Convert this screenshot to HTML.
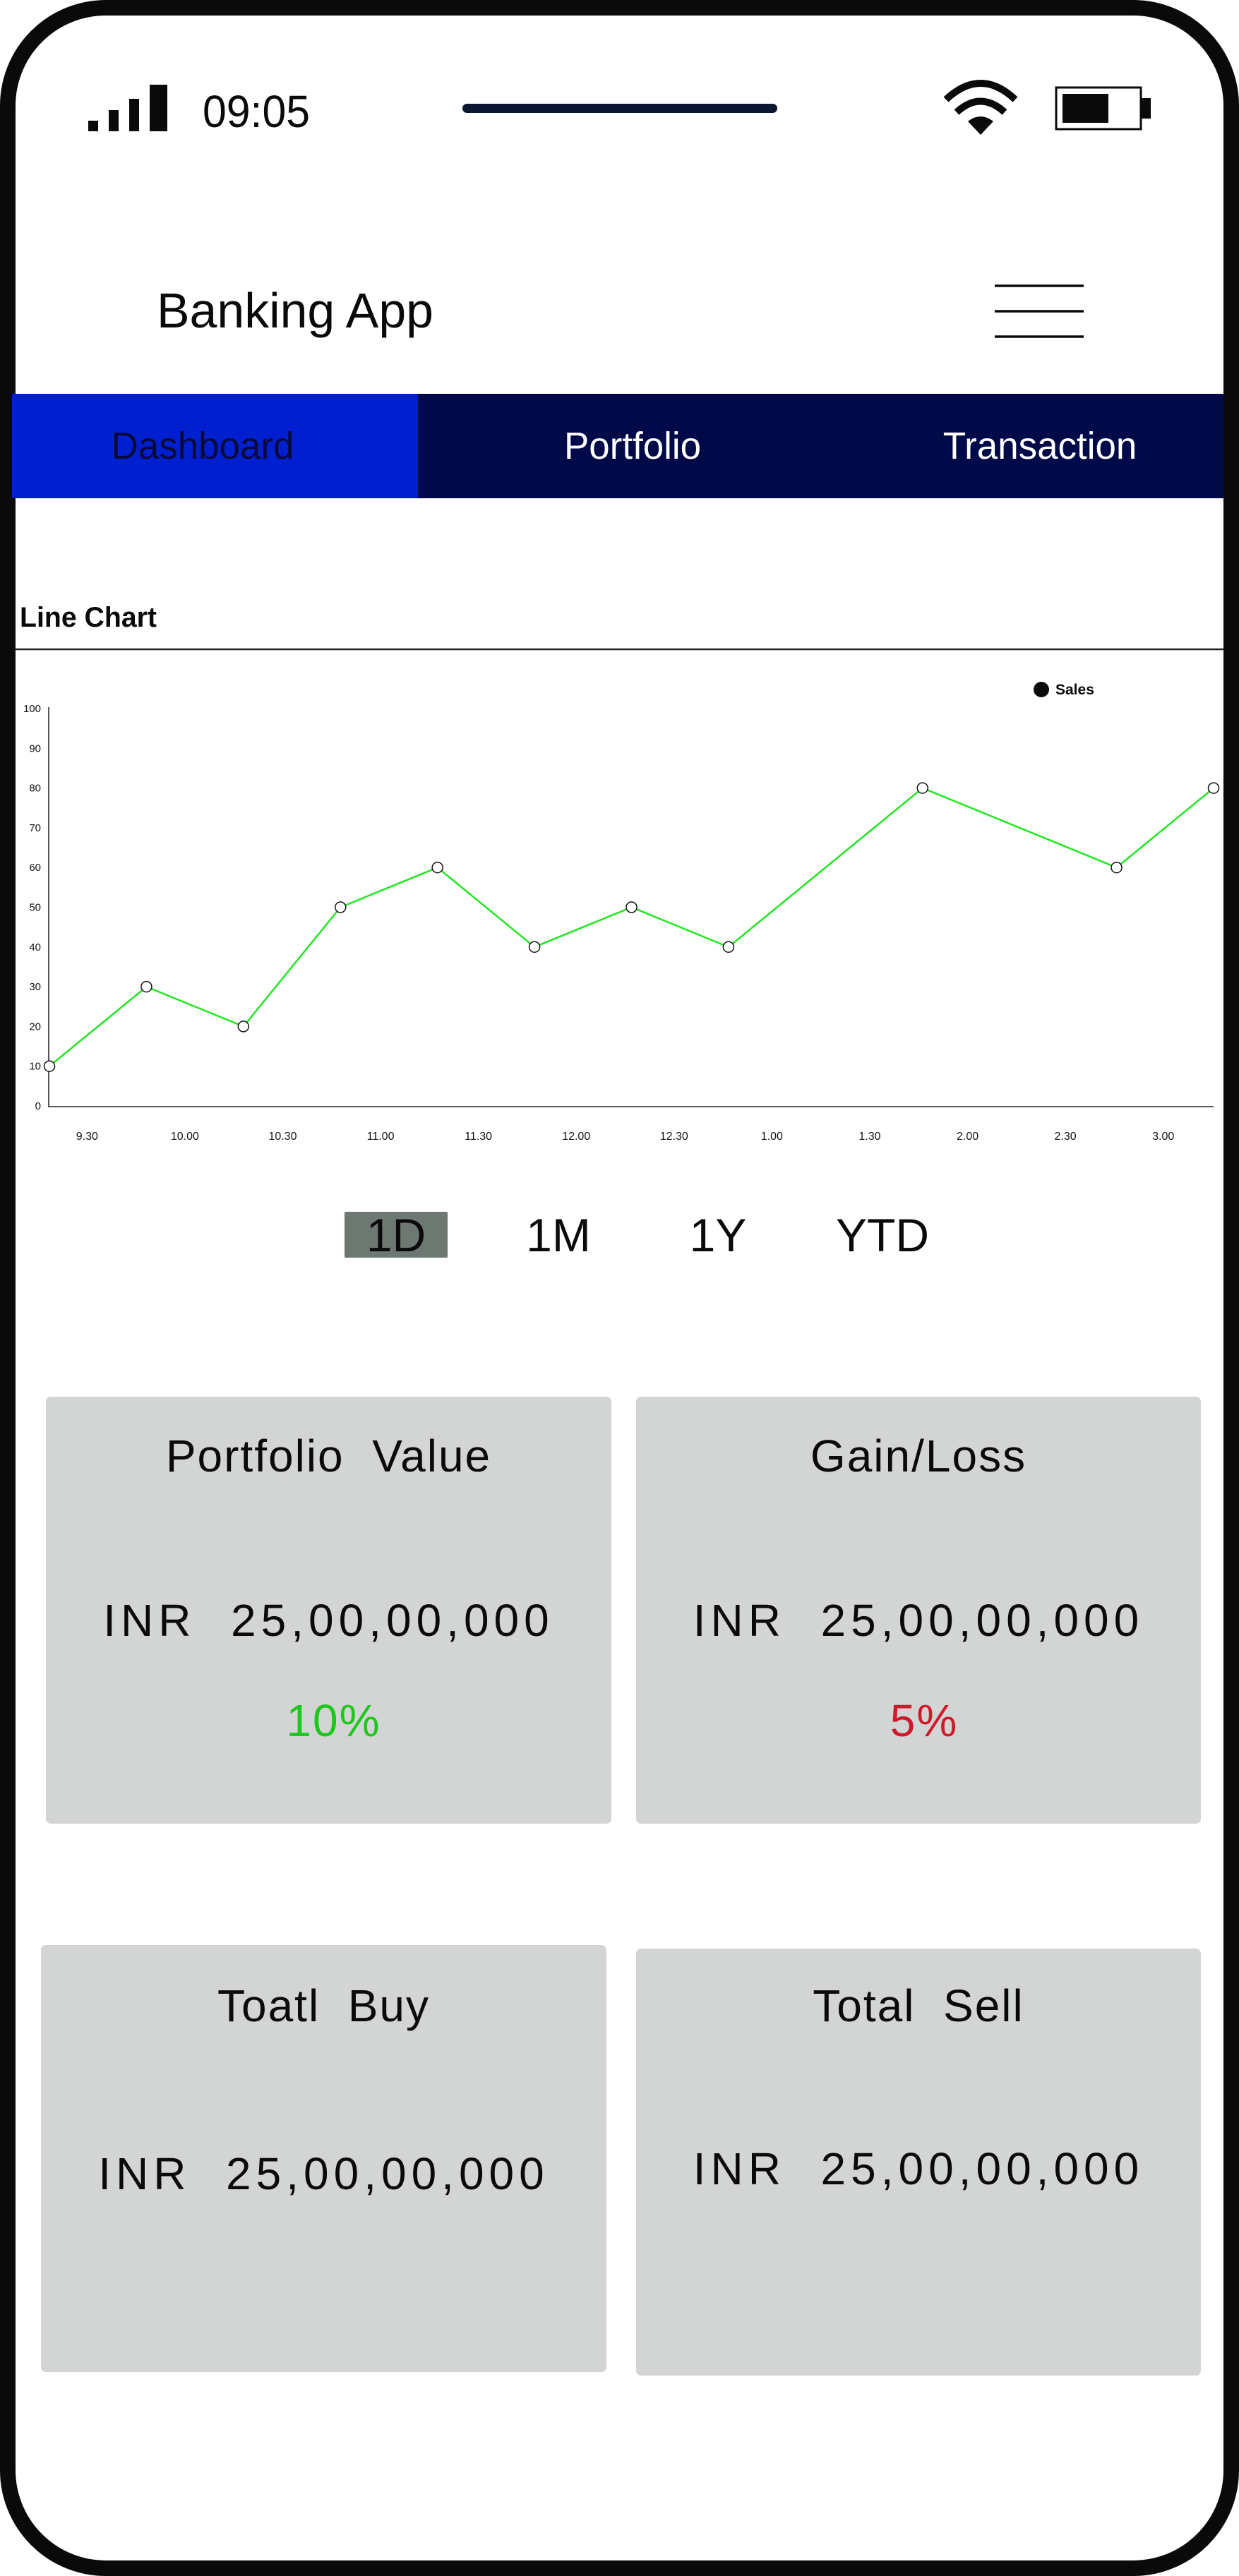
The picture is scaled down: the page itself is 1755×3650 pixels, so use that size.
<!DOCTYPE html>
<html><head><meta charset="utf-8"><style>
html,body{margin:0;padding:0;background:#fff}
body{width:1755px;height:3650px;position:relative;overflow:hidden;font-family:"Liberation Sans",sans-serif}
.abs{position:absolute}
.phone{left:0;top:0;width:1755px;height:3650px;box-sizing:border-box;border:22px solid #0a0a0a;border-radius:150px;background:#fff}
.card{background:#d3d4d4;border-radius:7px}
.ct{position:absolute;left:0;right:0;text-align:center;color:#0a0a0a;font-size:64px;letter-spacing:2px;white-space:pre;line-height:1}
.amt{letter-spacing:7px}
.tf{position:absolute;font-size:66px;color:#0a0a0a;line-height:1;text-align:center;width:200px}
.nav{position:absolute;top:558px;height:148px;font-size:54px;line-height:148px;text-align:center;transform-origin:center}
</style></head><body>
<div class="abs phone"></div>

<svg class="abs" style="left:0;top:0" width="1755" height="720">
  <g fill="#0a0a0a">
    <rect x="125" y="171" width="14" height="15"/><rect x="154" y="156" width="14" height="30"/><rect x="183" y="140" width="14" height="46"/><rect x="212" y="120" width="25" height="66"/>
  </g>
  <text x="287" y="180" font-size="64" fill="#0a0a0a" font-family="Liberation Sans" textLength="152" lengthAdjust="spacingAndGlyphs">09:05</text>
  <rect x="655" y="147" width="446" height="13" rx="6.5" fill="#0b1631"/>
  <g fill="none" stroke="#0a0a0a" stroke-width="10">
    <path d="M1340 141 Q1389 95 1438 141"/><path d="M1355 159 Q1389 128 1423 159"/>
    <path d="M1371 172 Q1389 158 1407 172 L1389 191 Z" fill="#0a0a0a" stroke="none"/>
  </g>
  <g>
    <rect x="1496" y="124" width="120" height="59" fill="none" stroke="#0a0a0a" stroke-width="3"/>
    <rect x="1505" y="133" width="65" height="41" fill="#0a0a0a"/>
    <rect x="1616" y="139" width="14" height="29" fill="#0a0a0a"/>
  </g>
  <text x="222" y="464" font-size="70" fill="#0a0a0a" textLength="392" lengthAdjust="spacingAndGlyphs">Banking App</text>
  <g stroke="#0a0a0a" stroke-width="3.5">
    <line x1="1409" y1="405" x2="1535" y2="405"/><line x1="1409" y1="441" x2="1535" y2="441"/><line x1="1409" y1="477" x2="1535" y2="477"/>
  </g>
</svg>

<div class="abs" style="left:17px;top:558px;width:575px;height:148px;background:#0020d0"></div>
<div class="abs" style="left:592px;top:558px;width:1141px;height:148px;background:#000a48"></div>
<div class="nav" style="left:0px;width:575px;color:#0a0a3a"><span style="display:inline-block;transform:scaleX(0.98)">Dashboard</span></div>
<div class="nav" style="left:746px;width:300px;color:#fff"><span style="display:inline-block;transform:scaleX(0.98)">Portfolio</span></div>
<div class="nav" style="left:1323px;width:300px;color:#fff"><span style="display:inline-block;transform:scaleX(0.98)">Transaction</span></div>

<svg class="abs" style="left:0;top:820px" width="1755" height="820" id="chart">
  <text x="28" y="68" font-size="40" font-weight="bold" fill="#0a0a0a" textLength="194" lengthAdjust="spacingAndGlyphs">Line Chart</text>
  <line x1="22" y1="100" x2="1733" y2="100" stroke="#222" stroke-width="2.5"/>
  <circle cx="1475" cy="157" r="11" fill="#0a0a0a"/>
  <text x="1495" y="164" font-size="21" font-weight="bold" fill="#0a0a0a">Sales</text>
</svg>

<div class="abs" style="left:488px;top:1717px;width:146px;height:65px;background:#6e7872;border-radius:2px"></div>
<div class="tf" style="left:461px;top:1717px">1D</div>
<div class="tf" style="left:691px;top:1717px">1M</div>
<div class="tf" style="left:917px;top:1717px">1Y</div>
<div class="tf" style="left:1150px;top:1717px">YTD</div>

<div class="abs card" style="left:65px;top:1979px;width:801px;height:605px">
  <div class="ct" style="top:52px">Portfolio  Value</div>
  <div class="ct amt" style="top:285px">INR  25,00,00,000</div>
  <div class="ct" style="top:427px;color:#1bc81b;left:14px">10%</div>
</div>
<div class="abs card" style="left:901px;top:1979px;width:800px;height:605px">
  <div class="ct" style="top:52px">Gain/Loss</div>
  <div class="ct amt" style="top:285px">INR  25,00,00,000</div>
  <div class="ct" style="top:427px;color:#d01a2a;left:16px">5%</div>
</div>
<div class="abs card" style="left:58px;top:2756px;width:801px;height:605px">
  <div class="ct" style="top:54px">Toatl  Buy</div>
  <div class="ct amt" style="top:292px">INR  25,00,00,000</div>
</div>
<div class="abs card" style="left:901px;top:2761px;width:800px;height:605px">
  <div class="ct" style="top:49px">Total  Sell</div>
  <div class="ct amt" style="top:280px">INR  25,00,00,000</div>
</div>

<script>
const slotIndex = [0,1,2,3,4,5,6,7,9,11,12];
const salesValues = [10,30,20,50,60,40,50,40,80,60,80];
const yTicks = [0,10,20,30,40,50,60,70,80,90,100];
const xLabels = ["9.30","10.00","10.30","11.00","11.30","12.00","12.30","1.00","1.30","2.00","2.30","3.00"];

const NS = "http://www.w3.org/2000/svg";
const svg = document.getElementById('chart');
const x0 = 70, x1 = 1719, y0 = 747, y1 = 184;
const xs = i => x0 + (x1 - x0) * i / 12;
const ys = v => y0 + (y1 - y0) * v / 100;
const bandX = i => 54 + (1717 - 54) / xLabels.length * (i + 0.5);
function mk(tag, attrs){ const e = document.createElementNS(NS, tag); for (const k in attrs) e.setAttribute(k, attrs[k]); svg.appendChild(e); return e; }

let e = mk('line', {x1:69, y1:y1-2, x2:69, y2:y0+1, stroke:'#222', 'stroke-width':1.5});


e = mk('line', {x1:68, y1:y0+1, x2:x1, y2:y0+1, stroke:'#222', 'stroke-width':1.5});



yTicks.forEach(t => {
  const tx = mk('text', {x:58, y:ys(t)+5, 'font-size':15, 'text-anchor':'end', fill:'#111'});
  tx.textContent = t;
  
  
});
xLabels.forEach((l, i) => {
  const tx = mk('text', {x:bandX(i), y:795, 'font-size':16, 'text-anchor':'middle', fill:'#111'});
  tx.textContent = l;
  
  
});
const pts = salesValues.map((v, i) => xs(slotIndex[i]) + ',' + ys(v)).join(' ');
const line = mk('polyline', {points:pts, fill:'none', stroke:'#22e622', 'stroke-width':2.5});


salesValues.forEach((v, i) => {
  const c = mk('circle', {cx:xs(slotIndex[i]), cy:ys(v), r:7.5, fill:'#fff', stroke:'#111', 'stroke-width':1.5});
  
  
});
</script>
</body></html>
